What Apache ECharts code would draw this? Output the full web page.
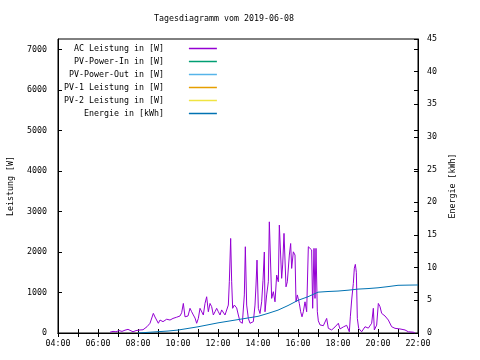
<!DOCTYPE html>
<html>
<head>
<meta charset="utf-8">
<script src="https://cdn.jsdelivr.net/npm/echarts@6/dist/echarts.min.js"></script>
<style>html,body{margin:0;padding:0;background:#fff;}#c{width:480px;height:360px;}</style>
</head>
<body>
<div id="c"></div>
<script>
// ---- data ----
const seriesNames = ['AC Leistung in [W]', 'PV-Power-In in [W]', 'PV-Power-Out in [W]', 'PV-1 Leistung in [W]', 'PV-2 Leistung in [W]', 'Energie in [kWh]'];
const seriesColors = ['#9400d3', '#009e73', '#56b4e9', '#e69f00', '#f0e442', '#0072b2'];

const acTimes = ['06:36','06:45','06:54','07:03','07:12','07:21','07:30','07:36','07:45','07:54','08:00','08:06','08:15','08:21','08:27','08:36','08:41','08:46','08:51','09:01','09:06','09:15','09:26','09:36','09:45','09:56','10:06','10:11','10:16','10:21','10:25','10:30','10:36','10:41','10:46','10:51','10:56','11:01','11:06','11:11','11:16','11:21','11:26','11:31','11:36','11:41','11:46','11:51','11:56','12:01','12:06','12:11','12:16','12:21','12:26','12:31','12:34','12:38','12:41','12:44','12:49','12:56','13:01','13:06','13:13','13:19','13:22','13:26','13:31','13:36','13:41','13:46','13:51','13:54','13:57','14:01','14:06','14:11','14:15','14:19','14:21','14:26','14:31','14:34','14:38','14:41','14:46','14:51','14:56','15:01','15:04','15:08','15:11','15:14','15:18','15:21','15:24','15:28','15:34','15:38','15:41','15:46','15:51','15:54','15:58','16:04','16:08','16:12','16:16','16:21','16:26','16:31','16:36','16:41','16:44','16:48','16:51','16:54','16:58','17:01','17:06','17:16','17:26','17:31','17:41','17:51','18:01','18:06','18:16','18:26','18:34','18:37','18:41','18:46','18:49','18:52','18:55','18:58','19:02','19:11','19:21','19:31','19:41','19:46','19:49','19:56','20:01','20:06','20:11','20:21','20:31','20:41','20:51','21:06','21:21','21:31','21:46','21:51'];
const acPower = [20,40,30,60,40,70,90,50,30,60,40,75,80,75,155,240,280,485,395,240,320,280,340,320,360,390,420,500,730,400,360,420,610,525,445,370,240,360,610,650,445,730,895,525,730,650,445,525,610,525,445,570,525,445,480,690,1265,2335,1265,610,690,620,445,280,240,940,2130,690,360,240,200,280,690,1185,1800,610,480,770,1300,2000,525,940,1265,2745,2745,855,1020,770,1430,1265,2665,2665,1350,1680,2460,2420,1140,1265,1925,2210,1595,2005,1925,770,940,730,525,400,525,770,525,2130,2090,2050,610,2090,855,2090,525,300,200,180,360,115,75,150,240,100,150,190,30,400,815,1225,1600,1695,1500,360,115,30,155,120,240,610,75,195,730,650,485,420,320,155,115,100,75,30,20,0];

const energyTimes = ['08:00','08:30','09:00','09:30','10:00','10:30','11:00','11:30','12:00','12:30','13:00','13:30','14:00','14:30','15:00','15:30','16:00','16:30','17:00','17:30','18:00','18:30','19:00','19:30','20:00','20:30','21:00','21:30','22:00'];
const energyKWh = [0,0.1,0.2,0.3,0.45,0.7,0.95,1.25,1.55,1.8,2.05,2.3,2.55,3.0,3.5,4.2,5.0,5.55,6.25,6.35,6.42,6.55,6.72,6.8,6.92,7.1,7.3,7.33,7.35];

const xMin = 4, xMax = 22;
const leftMax = 7260, rightMax = 45;
// --------------------------------------

function toHours(s){ const p = s.split(':'); return +p[0] + (+p[1])/60; }
function pad2(n){ return (n<10?'0':'') + n; }

const FONT = 'DejaVu Sans Mono';
const FS = 8.3;

const acData = acTimes.map((t,i)=>[toHours(t), acPower[i]]);
const enData = energyTimes.map((t,i)=>[toHours(t), energyKWh[i]]);

const series = seriesNames.map((name,i)=>({
  name: name,
  type: 'line',
  yAxisIndex: i === 5 ? 1 : 0,
  data: i === 0 ? acData : (i === 5 ? enData : []),
  showSymbol: false,
  symbol: 'none',
  animation: false,
  lineStyle: { color: seriesColors[i], width: 1 },
  itemStyle: { color: seriesColors[i] },
  z: i === 5 ? 3 : 2
}));

const chart = echarts.init(document.getElementById('c'), null, {renderer:'canvas'});
chart.setOption({
  animation: false,
  backgroundColor: '#fff',
  textStyle: { fontFamily: FONT, fontSize: FS, color: '#000' },
  title: {
    text: 'Tagesdiagramm vom 2019-06-08',
    left: 219, top: 10, textAlign: 'center',
    textStyle: { fontFamily: FONT, fontSize: FS, fontWeight: 'normal', color: '#000' }
  },
  legend: {
    orient: 'vertical', left: 59, top: 37, align: 'right',
    icon: 'rect', itemWidth: 28, itemHeight: 1.5, itemGap: 0,
    data: seriesNames,
    formatter: function(n){ return n.padStart(20, ' ') + '    '; },
    textStyle: { fontFamily: FONT, fontSize: FS, color: '#000', lineHeight: 13 }
  },
  grid: { left: 58, right: 62, top: 39, bottom: 27, show: true, borderColor: '#000', borderWidth: 1,
    containLabel: false, outerBoundsMode: 'none' },
  xAxis: [{
    type: 'value', min: xMin, max: xMax, interval: 1,
    axisLine: { show: true, lineStyle: { color: '#000' } },
    axisTick: { show: true, inside: true, length: 4, lineStyle: { color: '#000' } },
    splitLine: { show: false },
    axisLabel: { margin: 7, fontFamily: FONT, fontSize: FS, color: '#000',
      formatter: function(v){ return (v % 2 === 0) ? pad2(v) + ':00' : ''; } }
  },{
    type: 'value', position: 'top', min: xMin, max: xMax, interval: 1,
    axisLine: { show: true, lineStyle: { color: '#000' } },
    axisTick: { show: true, inside: true, length: 4, lineStyle: { color: '#000' } },
    splitLine: { show: false }, axisLabel: { show: false }
  }],
  yAxis: [{
    type: 'value', min: 0, max: leftMax, interval: 1000, position: 'left',
    name: 'Leistung [W]', nameLocation: 'middle', nameGap: 43, nameRotate: 90,
    nameTextStyle: { fontFamily: FONT, fontSize: FS, color: '#000' },
    axisLine: { show: true, lineStyle: { color: '#000' } },
    axisTick: { show: true, inside: true, length: 4, lineStyle: { color: '#000' } },
    splitLine: { show: false },
    axisLabel: { margin: 11, fontFamily: FONT, fontSize: FS, color: '#000', showMaxLabel: false,
      formatter: function(v){ return (v % 1000 === 0) ? String(v) : ''; } }
  },{
    type: 'value', min: 0, max: rightMax, interval: 5, position: 'right',
    name: 'Energie [kWh]', nameLocation: 'middle', nameGap: 31, nameRotate: 90,
    nameTextStyle: { fontFamily: FONT, fontSize: FS, color: '#000' },
    axisLine: { show: true, lineStyle: { color: '#000' } },
    axisTick: { show: true, inside: true, length: 4, lineStyle: { color: '#000' } },
    splitLine: { show: false },
    axisLabel: { margin: 9, fontFamily: FONT, fontSize: FS, color: '#000' }
  },{
    type: 'value', min: 0, max: leftMax, interval: 1000, position: 'right',
    axisLine: { show: false },
    axisTick: { show: true, inside: true, length: 4, lineStyle: { color: '#000' } },
    splitLine: { show: false }, axisLabel: { show: false }
  }],
  series: series
});
</script>
</body>
</html>
